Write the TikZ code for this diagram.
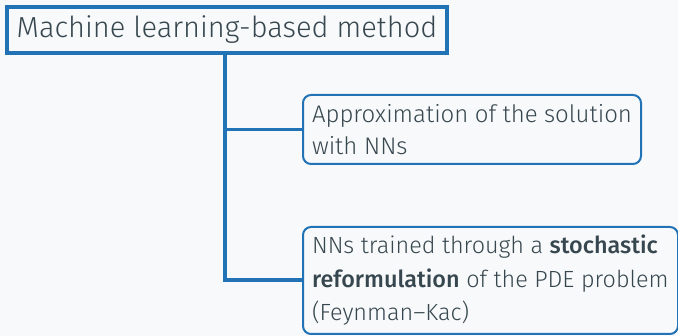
\documentclass[tikz,border=0pt]{standalone}
\usepackage{fontspec}
\setmainfont{Fira Sans}[UprightFont={* Light},BoldFont={* Medium}]
\definecolor{bg}{HTML}{F8F9FA}
\definecolor{ln}{HTML}{2272B6}
\definecolor{tx}{HTML}{37474F}
\tikzset{
  rootbox/.style={draw=ln, line width=4pt, fill=bg, text=tx, inner sep=0pt,
    font=\fontsize{29}{34}\selectfont},
  leafbox/.style={draw=ln, line width=2pt, fill=bg, text=tx, rounded corners=8pt,
    inner xsep=9pt, inner ysep=0pt, align=flush left},
  conn/.style={draw=ln, line width=3.5pt}
}
\begin{document}
\begin{tikzpicture}[x=1pt,y=-1pt]
\fill[bg] (0,0) rectangle (678,336);
\useasboundingbox (0,0) rectangle (678,336);
\node[rootbox, anchor=north west, minimum width=440pt, minimum height=46pt] (root) at (5,5) {Machine learning-based method};
\node[leafbox, anchor=north west, minimum width=338pt, minimum height=69pt, text width=320pt,
  font=\fontsize{24}{31.5}\selectfont] (b2) at (302,94) {Approximation of the solution\\with NNs};
\node[leafbox, anchor=north west, minimum width=375pt, minimum height=107pt, text width=357pt,
  font=\fontsize{23.4}{33.5}\selectfont] (b3) at (302,226) {\mbox{NNs trained through a \textbf{stochastic}}\\\mbox{\textbf{reformulation} of the PDE problem}\\\mbox{(Feynman--Kac)}};
\coordinate (j) at (225,280);
\draw[conn] (root.south -| j) -- (j) -- (b3.west |- j);
\draw[conn] (b2.west -| j) -- (b2.west);
\end{tikzpicture}
\end{document}
